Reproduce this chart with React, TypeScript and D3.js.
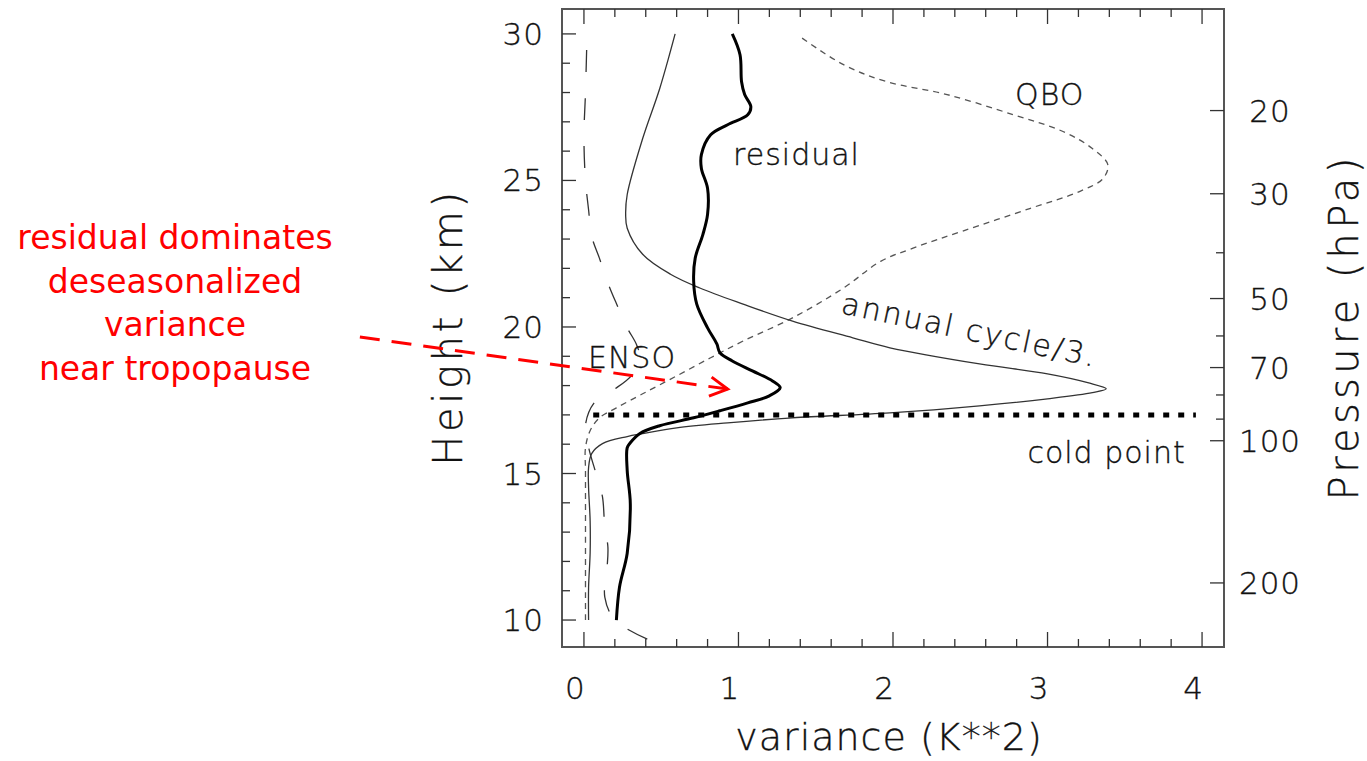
import React from "react";
import * as d3 from "d3";

// variance (K**2), height (km)
const residual: [number, number][] = [
  [0.21, 10.0], [0.23, 11.12], [0.28, 12.28], [0.3, 13.98], [0.28, 15.1], [0.28, 15.88],
  [0.3, 16.05], [0.36, 16.36], [0.49, 16.63], [0.71, 16.9], [0.88, 17.14], [1.06, 17.41],
  [1.2, 17.65], [1.27, 17.93], [1.22, 18.16], [1.09, 18.5], [0.96, 18.84], [0.88, 19.12],
  [0.86, 19.42], [0.8, 19.97], [0.73, 20.78], [0.71, 21.56], [0.72, 22.35], [0.77, 23.16],
  [0.8, 23.84], [0.8, 24.73], [0.76, 25.41], [0.76, 25.88], [0.82, 26.56], [0.93, 26.9],
  [1.06, 27.24], [1.08, 27.52], [1.04, 27.93], [1.02, 28.37], [1.01, 29.29], [0.96, 30.0],
];

const annualCycle: [number, number][] = [
  [0.03, 10.0], [0.03, 11.12], [0.04, 12.28], [0.04, 13.4], [0.03, 14.52], [0.03, 15.2],
  [0.05, 15.68], [0.12, 16.02], [0.28, 16.26], [0.38, 16.36], [0.6, 16.56], [0.93, 16.73],
  [1.35, 16.9], [1.98, 17.07], [2.56, 17.31], [3.0, 17.55], [3.29, 17.76], [3.38, 17.89],
  [3.26, 18.1], [3.0, 18.4], [2.56, 18.74], [1.98, 19.29], [1.74, 19.63], [1.35, 20.2],
  [1.03, 20.78], [0.75, 21.33], [0.56, 21.8], [0.38, 22.48], [0.28, 23.37], [0.27, 23.84],
  [0.28, 24.52], [0.38, 26.43], [0.49, 28.13], [0.59, 30.0],
];

const qbo: [number, number][] = [
  [0.01, 10.0], [0.01, 13.4], [0.01, 15.1], [0.01, 15.88], [0.04, 16.46], [0.1, 16.9],
  [0.21, 17.24], [0.38, 17.72], [0.6, 18.33], [0.82, 18.95], [1.03, 19.52], [1.35, 20.31],
  [1.68, 21.33], [1.92, 22.24], [2.13, 22.69], [2.45, 23.27], [2.89, 24.05], [3.21, 24.63],
  [3.36, 25.07], [3.39, 25.54], [3.29, 26.09], [3.1, 26.67], [2.78, 27.24], [2.35, 27.93],
  [1.96, 28.37], [1.68, 28.95], [1.4, 29.9],
];

const enso: [number, number][] = [
  [0.41, 9.35], [0.2, 10.0], [0.135, 10.78], [0.15, 11.8], [0.155, 12.49], [0.135, 13.17],
  [0.12, 14.2], [0.085, 14.88], [0.03, 15.9], [0.01, 16.66], [0.07, 17.44], [0.19, 17.85],
  [0.31, 18.36], [0.36, 18.98], [0.34, 19.4], [0.28, 19.97], [0.21, 20.8], [0.155, 21.5],
  [0.1, 22.35], [0.05, 23.1], [0.03, 24.0], [0.01, 25.0], [0.0, 26.5], [0.01, 28.0], [0.02, 30.0],
];

const coldPointHeight = 17.0;
const coldPointRange = [0.06, 3.96];

const xMajorTicks = [0, 1, 2, 3, 4];
const yMajorTicks = [10, 15, 20, 25, 30];
const pressureMajor = [20, 30, 50, 70, 100, 200];
const pressureMinor = [40, 60, 80, 90];

// label anchors in data units [variance, height]
const seriesLabels: { text: string; at: [number, number]; rotate?: number; spacing?: number }[] = [
  { text: "residual", at: [0.965, 25.53] },
  { text: "QBO", at: [2.79, 27.58] },
  { text: "ENSO", at: [0.026, 18.6] },
  { text: "cold point", at: [2.87, 15.36] },
  { text: "annual cycle/3.", at: [1.657, 20.48], rotate: 12, spacing: 2.2 },
];

const noteLines = ["residual dominates", "deseasonalized", "variance", "near tropopause"];
const noteArrow: [number, number][] = [[-1.45, 19.66], [0.93, 17.88]];

const W = 1367;
const H = 761;
const FONT = "'DejaVu Sans', sans-serif";

export default function App() {
  const x = d3.scaleLinear().domain([-0.142, 4.142]).range([562, 1224]);
  const y = d3.scaleLinear().domain([9.08, 30.85]).range([647, 9]);
  const zOfP = (p: number) => 7 * Math.log(1000 / p);

  const [x0, x1] = x.range();
  const [y0, y1] = y.range();

  const line = d3
    .line<[number, number]>()
    .x((d) => x(d[0]))
    .y((d) => y(d[1]))
    .curve(d3.curveCatmullRom.alpha(0.5));

  const xMinor = d3.range(0, 4.01, 0.2).filter((v) => Math.abs(v - Math.round(v)) > 0.01);
  const yMinor = d3.range(10, 31, 1).filter((v) => v % 5 !== 0);

  const ax = x(noteArrow[0][0]);
  const ay = y(noteArrow[0][1]);
  const bx = x(noteArrow[1][0]);
  const by = y(noteArrow[1][1]);
  const ang = Math.atan2(by - ay, bx - ax);
  const head = 20;
  const spread = 0.5;

  // thin text gets a hairline stroke so it reads as dark as the original
  const ink = { fill: "#111", stroke: "#111", strokeWidth: 0.35, fontWeight: 300 };

  return (
    <svg width={W} height={H} style={{ position: "absolute", left: 0, top: 0, background: "#fff" }}>
      <defs>
        <clipPath id="plot">
          <rect x={x0} y={y1} width={x1 - x0} height={y0 - y1} />
        </clipPath>
      </defs>

      {/* curves */}
      <g clipPath="url(#plot)" fill="none">
        <path d={line(qbo) || ""} stroke="#555" strokeWidth={1.3} strokeDasharray="6 5" />
        <path d={line(enso) || ""} stroke="#333" strokeWidth={1.3} strokeDasharray="22 26" />
        <path d={line(annualCycle) || ""} stroke="#333" strokeWidth={1.3} />
        <path d={line(residual) || ""} stroke="#000" strokeWidth={3} />
        <line
          x1={x(coldPointRange[0])}
          x2={x(coldPointRange[1])}
          y1={y(coldPointHeight)}
          y2={y(coldPointHeight)}
          stroke="#000"
          strokeWidth={5}
          strokeDasharray="6 9"
        />
      </g>

      {/* frame */}
      <rect x={x0} y={y1} width={x1 - x0} height={y0 - y1} fill="none" stroke="#555" strokeWidth={2} />

      {/* ticks: x top and bottom, height on the left, pressure on the right */}
      <g stroke="#333" strokeWidth={1.3}>
        {xMajorTicks.map((v) => (
          <g key={"xM" + v}>
            <line x1={x(v)} x2={x(v)} y1={y0} y2={y0 - 15} />
            <line x1={x(v)} x2={x(v)} y1={y1} y2={y1 + 15} />
          </g>
        ))}
        {xMinor.map((v) => (
          <g key={"xm" + v}>
            <line x1={x(v)} x2={x(v)} y1={y0} y2={y0 - 8} />
            <line x1={x(v)} x2={x(v)} y1={y1} y2={y1 + 8} />
          </g>
        ))}
        {yMajorTicks.map((v) => (
          <line key={"yM" + v} x1={x0} x2={x0 + 14} y1={y(v)} y2={y(v)} />
        ))}
        {yMinor.map((v) => (
          <line key={"ym" + v} x1={x0} x2={x0 + 8} y1={y(v)} y2={y(v)} />
        ))}
        {pressureMajor.map((p) => (
          <line key={"pM" + p} x1={x1} x2={x1 - 14} y1={y(zOfP(p))} y2={y(zOfP(p))} />
        ))}
        {pressureMinor.map((p) => (
          <line key={"pm" + p} x1={x1} x2={x1 - 8} y1={y(zOfP(p))} y2={y(zOfP(p))} />
        ))}
      </g>

      {/* tick labels */}
      <g fontFamily={FONT} fontSize={31} {...ink}>
        {yMajorTicks.map((v) => (
          <text key={"yl" + v} x={544} y={y(v) + 11} textAnchor="end" letterSpacing={1}>
            {v}
          </text>
        ))}
        {xMajorTicks.map((v) => (
          <text key={"xl" + v} x={x(v) - 9} y={699} textAnchor="middle">
            {v}
          </text>
        ))}
        {pressureMajor.map((p) => (
          <text key={"pl" + p} x={1270} y={y(zOfP(p)) + 11} textAnchor="middle" letterSpacing={1}>
            {p}
          </text>
        ))}
      </g>

      {/* axis titles */}
      <g fontFamily={FONT} {...ink}>
        <text x={889} y={750} fontSize={38} textAnchor="middle" letterSpacing={1}>
          variance (K**2)
        </text>
        <text
          transform={`translate(462,327) rotate(-90)`}
          fontSize={40}
          textAnchor="middle"
          letterSpacing={3.7}
        >
          Height (km)
        </text>
        <text
          transform={`translate(1358,327) rotate(-90)`}
          fontSize={40}
          textAnchor="middle"
          letterSpacing={4.3}
        >
          Pressure (hPa)
        </text>
      </g>

      {/* series labels */}
      <g fontFamily={FONT} fontSize={30} {...ink}>
        {seriesLabels.map((l) => (
          <text
            key={l.text}
            transform={`translate(${x(l.at[0])},${y(l.at[1])}) rotate(${l.rotate || 0})`}
            letterSpacing={l.spacing ?? 1}
          >
            {l.text}
          </text>
        ))}
      </g>

      {/* red note */}
      <g fontFamily={FONT} fill="#ff0000" fontSize={33} textAnchor="middle">
        {noteLines.map((t, i) => (
          <text key={t} x={175} y={249 + i * 43.5}>
            {t}
          </text>
        ))}
      </g>
      <g stroke="#ff0000" strokeWidth={3} fill="none">
        <line x1={ax} y1={ay} x2={bx} y2={by} strokeDasharray="20 12" />
        <polyline
          points={[
            [bx - head * Math.cos(ang - spread), by - head * Math.sin(ang - spread)],
            [bx, by],
            [bx - head * Math.cos(ang + spread), by - head * Math.sin(ang + spread)],
          ]
            .map((p) => p.join(","))
            .join(" ")}
        />
      </g>
    </svg>
  );
}
